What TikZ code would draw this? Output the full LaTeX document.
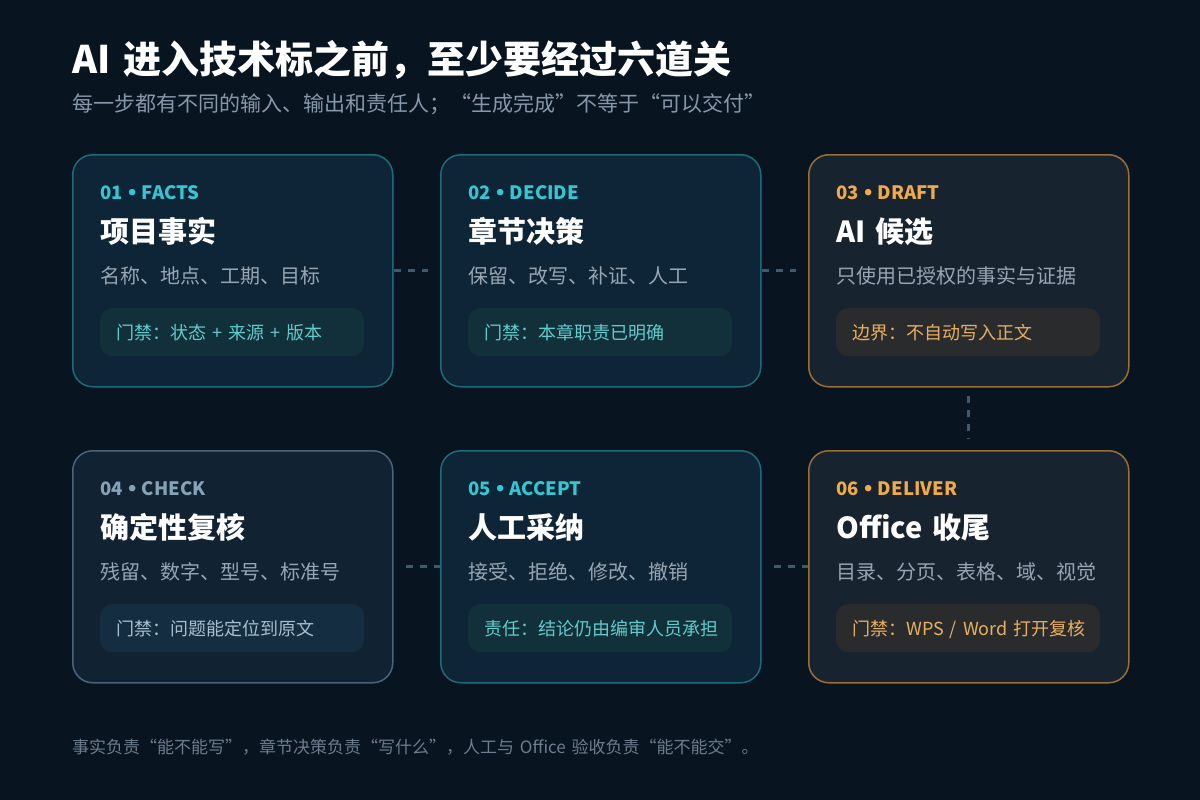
\documentclass[tikz,border=0pt]{standalone}
\usepackage{fontspec}
\setmainfont{Noto Sans CJK SC}[WordSpace=1.5]
\newfontfamily\dotfont{DejaVu Sans}
\definecolor{bg}{HTML}{081520}
\definecolor{tealfill}{HTML}{0D2536}
\definecolor{tealedge}{HTML}{1D6A7A}
\definecolor{tealpillc}{HTML}{12303A}
\definecolor{tealgatec}{HTML}{62CBCD}
\definecolor{tealtagc}{HTML}{35C6D3}
\definecolor{orfill}{HTML}{182330}
\definecolor{oredge}{HTML}{9A6E35}
\definecolor{orpillc}{HTML}{2A2B2D}
\definecolor{orgatec}{HTML}{E8B060}
\definecolor{ortagc}{HTML}{F0AA48}
\definecolor{grfill}{HTML}{112233}
\definecolor{gredge}{HTML}{4B6378}
\definecolor{grpillc}{HTML}{152D40}
\definecolor{grgatec}{HTML}{A9BFCF}
\definecolor{grtagc}{HTML}{86A2B6}
\definecolor{desccol}{HTML}{98A6B4}
\definecolor{subcol}{HTML}{8798AA}
\definecolor{footcol}{HTML}{6B7D8E}
\definecolor{conncol}{HTML}{3E5A6E}
\newcommand\tagdot{\hspace{0.2em}{\dotfont •}\hspace{0.2em}}
\tikzset{
  card/.style={draw, line width=1.5pt, rounded corners=20pt, minimum width=320pt,
    minimum height=232pt, anchor=north west, inner sep=0pt},
  pill/.style={rounded corners=12pt, minimum width=264pt, minimum height=48pt,
    anchor=north west, inner sep=0pt},
  tagtxt/.style={anchor=base west, inner sep=0pt, font=\fontsize{18.5}{22}\selectfont\bfseries},
  titletxt/.style={anchor=base west, inner sep=0pt, text=white, font=\fontsize{29}{34}\selectfont\bfseries},
  desctxt/.style={anchor=base west, inner sep=0pt, text=desccol, font=\fontsize{20}{24}\selectfont},
  gatetxt/.style={anchor=base west, inner sep=0pt, font=\fontsize{18}{22}\selectfont},
  tealcard/.style={fill=tealfill, draw=tealedge},
  tealpill/.style={fill=tealpillc},
  tealtag/.style={text=tealtagc},
  tealgate/.style={text=tealgatec},
  orcard/.style={fill=orfill, draw=oredge},
  orpill/.style={fill=orpillc},
  ortag/.style={text=ortagc},
  orgate/.style={text=orgatec},
  grcard/.style={fill=grfill, draw=gredge},
  grpill/.style={fill=grpillc},
  grtag/.style={text=grtagc},
  grgate/.style={text=grgatec},
  conn/.style={draw=conncol, line width=3pt, dash pattern=on 7pt off 7pt},
}
\newcommand\stagecard[8]{%
  \node[card,#4card] (#1) at (#2,#3) {};
  \node[pill,#4pill] (#1p) at (#2+28,#3+154) {};
  \node[tagtxt,#4tag] (#1t) at (#2+28,#3+45) {#5};
  \node[titletxt] (#1h) at (#2+28,#3+88) {#6};
  \node[desctxt] (#1d) at (#2+28,#3+129) {#7};
  \node[gatetxt,#4gate] (#1g) at (#2+44,#3+185) {#8};
}
\begin{document}
\begin{tikzpicture}[x=1pt,y=-1pt]
\useasboundingbox (0,0) rectangle (1200,800);
\fill[bg] (0,0) rectangle (1200,800);
\node[anchor=base west, inner sep=0pt, text=white, font=\fontsize{38}{44}\selectfont\bfseries]
  (title) at (72,74) {AI 进入技术标之前，至少要经过六道关};
\node[anchor=base west, inner sep=0pt, text=subcol, font=\fontsize{21}{25}\selectfont]
  (sub) at (72,111) {每一步都有不同的输入、输出和责任人；“生成完成”不等于“可以交付”};
\stagecard{c1}{72}{154}{teal}{01\tagdot FACTS}{项目事实}{名称、地点、工期、目标}{门禁：状态 + 来源 + 版本}
\stagecard{c2}{440}{154}{teal}{02\tagdot DECIDE}{章节决策}{保留、改写、补证、人工}{门禁：本章职责已明确}
\stagecard{c3}{808}{154}{or}{03\tagdot DRAFT}{AI 候选}{只使用已授权的事实与证据}{边界：不自动写入正文}
\stagecard{c4}{72}{450}{gr}{04\tagdot CHECK}{确定性复核}{残留、数字、型号、标准号}{门禁：问题能定位到原文}
\stagecard{c5}{440}{450}{teal}{05\tagdot ACCEPT}{人工采纳}{接受、拒绝、修改、撤销}{责任：结论仍由编审人员承担}
\stagecard{c6}{808}{450}{or}{06\tagdot DELIVER}{Office 收尾}{目录、分页、表格、域、视觉}{门禁：WPS / Word 打开复核}
\coordinate (k2) at ([xshift=-12pt]c2.west);
\coordinate (k3) at ([xshift=-12pt]c3.west);
\coordinate (k4) at ([xshift=12pt]c4.east);
\coordinate (k5) at ([xshift=12pt]c5.east);
\coordinate (k3s) at ([yshift=-8pt]c3.south);
\coordinate (k6n) at ([yshift=12pt]c6.north);
\draw[conn] (c1.east) -- (k2);
\draw[conn] (c2.east) -- (k3);
\draw[conn] (k4) -- (c5.west);
\draw[conn] (k5) -- (c6.west);
\draw[conn] (k3s) -- (k6n);
\node[anchor=base west, inner sep=0pt, text=footcol, font=\fontsize{17}{20}\selectfont]
  (foot) at (72,753) {事实负责“能不能写”，章节决策负责“写什么”，人工与 Office 验收负责“能不能交”。};
\end{tikzpicture}
\end{document}
